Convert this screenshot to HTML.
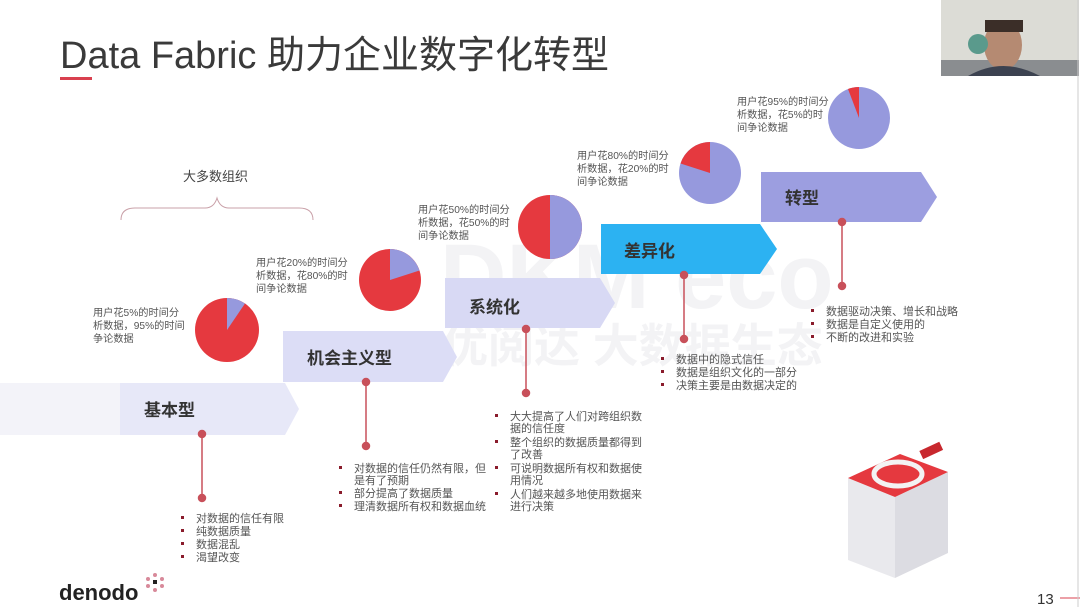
<!DOCTYPE html>
<html><head><meta charset="utf-8"><style>
html,body{margin:0;padding:0;background:#fff;}
svg{display:block;}
text{font-family:"Liberation Sans","Noto Sans CJK SC",sans-serif;}
</style></head><body>
<svg width="1080" height="607" viewBox="0 0 1080 607" xmlns="http://www.w3.org/2000/svg">
<rect width="1080" height="607" fill="#fff"/>
<!-- watermark -->
<text x="440" y="308" font-size="92" fill="#f3f3f5" font-weight="bold" font-family="Liberation Sans,sans-serif">DKM eco</text>
<text x="442" y="362" font-size="46" fill="#f3f3f5" font-weight="bold">优阅达 大数据生态</text>
<!-- title -->
<text x="60" y="68" font-size="38" fill="#3a3a3a">Data Fabric 助力企业数字化转型</text>
<rect x="60" y="77" width="32" height="3" fill="#d9404f"/>
<!-- webcam -->
<rect x="941" y="0" width="138" height="76" fill="#dcdcd6"/>
<rect x="941" y="60" width="138" height="16" fill="#8a8d90"/>
<ellipse cx="1003" cy="45" rx="19" ry="25" fill="#b58a72"/>
<path d="M968 76 Q1003 56 1040 76Z" fill="#3c4250"/>
<rect x="985" y="20" width="38" height="12" fill="#3b2e28"/>
<circle cx="978" cy="44" r="10" fill="#5a9a8c"/>
<!-- brace -->
<text x="183" y="181" font-size="13" fill="#444">大多数组织</text>
<path d="M121 220 Q121 208 135 208 L205 208 Q214 208 217 198 Q220 208 229 208 L299 208 Q313 208 313 220" fill="none" stroke="#c9a0a8" stroke-width="1"/>
<!-- bars -->
<polygon points="0,383 120,383 120,435 0,435" fill="#f3f3f9"/>
<polygon points="120,383 285,383 299,409 285,435 120,435" fill="#e7e8f8"/>
<polygon points="283,331 443,331 457,357 443,382 283,382" fill="#dcddf6"/>
<polygon points="445,278 600,278 615,303 600,328 445,328" fill="#d8d9f4"/>
<polygon points="601,224 760,224 777,249 760,274 601,274" fill="#2cb2f2"/>
<polygon points="761,172 921,172 937,197 921,222 761,222" fill="#9c9ee0"/>
<g font-size="17" font-weight="bold" fill="#333">
<text x="144" y="416">基本型</text>
<text x="307" y="364">机会主义型</text>
<text x="469" y="313">系统化</text>
<text x="624" y="257">差异化</text>
<text x="785" y="204">转型</text>
</g>
<!-- connectors -->
<g stroke="#c8505a" stroke-width="1.5" fill="#c8505a">
<line x1="202" y1="434" x2="202" y2="498"/><circle cx="202" cy="434" r="3.5"/><circle cx="202" cy="498" r="3.5"/>
<line x1="366" y1="382" x2="366" y2="446"/><circle cx="366" cy="382" r="3.5"/><circle cx="366" cy="446" r="3.5"/>
<line x1="526" y1="329" x2="526" y2="393"/><circle cx="526" cy="329" r="3.5"/><circle cx="526" cy="393" r="3.5"/>
<line x1="684" y1="275" x2="684" y2="339"/><circle cx="684" cy="275" r="3.5"/><circle cx="684" cy="339" r="3.5"/>
<line x1="842" y1="222" x2="842" y2="286"/><circle cx="842" cy="222" r="3.5"/><circle cx="842" cy="286" r="3.5"/>
</g>
<!-- pies -->
<circle cx="227" cy="330" r="32" fill="#e5393f"/>
<path d="M227 330 L227 298 A32 32 0 0 1 245 303.5 Z" fill="#9699dd"/>
<circle cx="390" cy="280" r="31" fill="#e5393f"/>
<path d="M390 280 L390 249 A31 31 0 0 1 419.5 270.5 Z" fill="#9699dd"/>
<circle cx="550" cy="227" r="32" fill="#e5393f"/>
<path d="M550 227 L550 195 A32 32 0 0 1 550 259 Z" fill="#9699dd"/>
<circle cx="710" cy="173" r="31" fill="#9699dd"/>
<path d="M710 173 L710 142 A31 31 0 0 0 680.5 163.5 Z" fill="#e5393f"/>
<circle cx="859" cy="118" r="31" fill="#9699dd"/>
<path d="M859 118 L859 87 A31 31 0 0 0 848 89 Z" fill="#e5393f"/>
<!-- pie labels -->
<g font-size="10.2" fill="#555">
<text x="93" y="316">用户花5%的时间分</text><text x="93" y="329">析数据，95%的时间</text><text x="93" y="342">争论数据</text>
<text x="256" y="266">用户花20%的时间分</text><text x="256" y="279">析数据，花80%的时</text><text x="256" y="292">间争论数据</text>
<text x="418" y="213">用户花50%的时间分</text><text x="418" y="226">析数据，花50%的时</text><text x="418" y="239">间争论数据</text>
<text x="577" y="159">用户花80%的时间分</text><text x="577" y="172">析数据，花20%的时</text><text x="577" y="185">间争论数据</text>
<text x="737" y="105">用户花95%的时间分</text><text x="737" y="118">析数据，花5%的时</text><text x="737" y="131">间争论数据</text>
</g>
<!-- bullet lists -->
<g font-size="11" fill="#555">
<text x="196" y="522">对数据的信任有限</text><text x="196" y="535">纯数据质量</text><text x="196" y="548">数据混乱</text><text x="196" y="561">渴望改变</text>
<text x="354" y="472">对数据的信任仍然有限，但</text><text x="354" y="484">是有了预期</text><text x="354" y="497">部分提高了数据质量</text><text x="354" y="510">理清数据所有权和数据血统</text>
<text x="510" y="420">大大提高了人们对跨组织数</text><text x="510" y="432">据的信任度</text><text x="510" y="446">整个组织的数据质量都得到</text><text x="510" y="458">了改善</text><text x="510" y="472">可说明数据所有权和数据使</text><text x="510" y="484">用情况</text><text x="510" y="498">人们越来越多地使用数据来</text><text x="510" y="510">进行决策</text>
<text x="676" y="363">数据中的隐式信任</text><text x="676" y="376">数据是组织文化的一部分</text><text x="676" y="389">决策主要是由数据决定的</text>
<text x="826" y="315">数据驱动决策、增长和战略</text><text x="826" y="328">数据是自定义使用的</text><text x="826" y="341">不断的改进和实验</text>
</g>
<g fill="#8a1c2c">
<rect x="181" y="516" width="3" height="3"/><rect x="181" y="529" width="3" height="3"/><rect x="181" y="542" width="3" height="3"/><rect x="181" y="555" width="3" height="3"/>
<rect x="339" y="466" width="3" height="3"/><rect x="339" y="491" width="3" height="3"/><rect x="339" y="504" width="3" height="3"/>
<rect x="495" y="414" width="3" height="3"/><rect x="495" y="440" width="3" height="3"/><rect x="495" y="466" width="3" height="3"/><rect x="495" y="492" width="3" height="3"/>
<rect x="661" y="357" width="3" height="3"/><rect x="661" y="370" width="3" height="3"/><rect x="661" y="383" width="3" height="3"/>
<rect x="811" y="309" width="3" height="3"/><rect x="811" y="322" width="3" height="3"/><rect x="811" y="335" width="3" height="3"/>
</g>
<!-- illustration -->
<polygon points="848,478 895,497 895,578 848,560" fill="#e9e9ed"/>
<polygon points="895,497 948,472 948,553 895,578" fill="#dcdce2"/>
<polygon points="848,478 900,454 948,472 895,497" fill="#e5393f"/>
<ellipse cx="898" cy="474" rx="24" ry="12" fill="none" stroke="#f3f3f3" stroke-width="5"/>
<rect x="920" y="446" width="22" height="9" fill="#c8282e" transform="rotate(-25 931 450)"/>
<!-- logo -->
<text x="59" y="600" font-size="22" font-weight="bold" fill="#222">denodo</text>
<g fill="#d8899a"><circle cx="155" cy="575" r="2"/><circle cx="162" cy="579" r="2"/><circle cx="148" cy="579" r="2"/><circle cx="162" cy="586" r="2"/><circle cx="148" cy="586" r="2"/><circle cx="155" cy="590" r="2"/></g>
<rect x="153" y="580" width="4" height="4" fill="#222"/>
<text x="1037" y="604" font-size="15" fill="#333">13</text>
<line x1="1060" y1="598" x2="1080" y2="598" stroke="#d9404f" stroke-width="1"/>
<line x1="1078" y1="0" x2="1078" y2="607" stroke="#ccc" stroke-width="1"/>
</svg>
</body></html>
